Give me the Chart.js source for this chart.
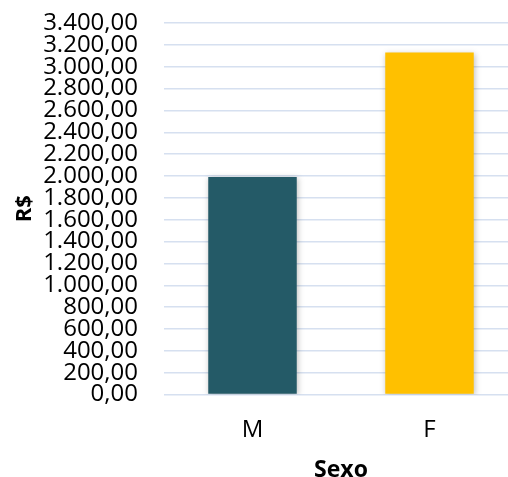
<!DOCTYPE html>
<html>
<head>
<meta charset="utf-8">
<script src="https://cdn.jsdelivr.net/npm/chart.js@4"></script>
<style>
  html, body { margin: 0; padding: 0; background: #fff; overflow: hidden; }
  #wrap { width: 518px; height: 477px; }
</style>
</head>
<body>
<div id="wrap"><canvas id="chart" width="518" height="477"></canvas></div>
<script>
// salary by sex
const categories = ['M', 'F'];
const values = [1990, 3130];
const barColors = ['#245A67', '#FFC000'];
const yTitle = 'R$';
const xTitle = 'Sexo';

// light shadow under the bars, like the spreadsheet export
const barShadow = {
  id: 'barShadow',
  beforeDatasetDraw(chart) {
    const ctx = chart.ctx;
    ctx.save();
    ctx.shadowColor = 'rgba(0,0,0,0.25)';
    ctx.shadowBlur = 6;
    ctx.shadowOffsetX = 1;
    ctx.shadowOffsetY = 1;
  },
  afterDatasetDraw(chart) {
    chart.ctx.restore();
  }
};

const fmt = v => v.toLocaleString('pt-BR', { minimumFractionDigits: 2, maximumFractionDigits: 2 });

function drawChart() {
  const ctx = document.getElementById('chart').getContext('2d');
  new Chart(ctx, {
    type: 'bar',
    data: {
      labels: categories,
      datasets: [{
        data: values,
        backgroundColor: barColors,
        barPercentage: 0.5,
        categoryPercentage: 1
      }]
    },
    options: {
      responsive: false,
      animation: false,
      layout: { padding: { left: 12, top: 23, right: 0, bottom: -7 } },
      plugins: { legend: { display: false }, tooltip: { enabled: false } },
      scales: {
        y: {
          min: 0,
          max: 3400,
          // fixed axis width / no label overhang so the plot sits where the original does
          afterFit: scale => {
            scale.width = 152;
            scale.paddingTop = 0;
            scale.paddingBottom = 0;
          },
          ticks: {
            stepSize: 200,
            autoSkip: false,
            padding: 26,
            color: '#000',
            font: { family: 'Open Sans', size: 24 },
            callback: v => fmt(v)
          },
          grid: { color: '#d6e0f0', lineWidth: 1.5, drawTicks: false },
          border: { display: false },
          title: {
            display: true,
            text: yTitle,
            color: '#000',
            font: { family: 'Open Sans', size: 22, weight: 'bold' },
            padding: 0
          }
        },
        x: {
          ticks: {
            color: '#000',
            padding: 21,
            font: { family: 'Open Sans', size: 24 }
          },
          grid: { display: false, drawTicks: false },
          border: { display: false },
          title: {
            display: true,
            text: xTitle,
            color: '#000',
            font: { family: 'Open Sans', size: 23, weight: 'bold' },
            padding: { top: -9, bottom: 0 }
          }
        }
      }
    },
    plugins: [barShadow]
  });
}

// wait for the fonts so label widths are measured right
Promise.all([
  document.fonts.load('24px "Open Sans"'),
  document.fonts.load('bold 23px "Open Sans"')
]).then(drawChart, drawChart);
</script>
</body>
</html>
